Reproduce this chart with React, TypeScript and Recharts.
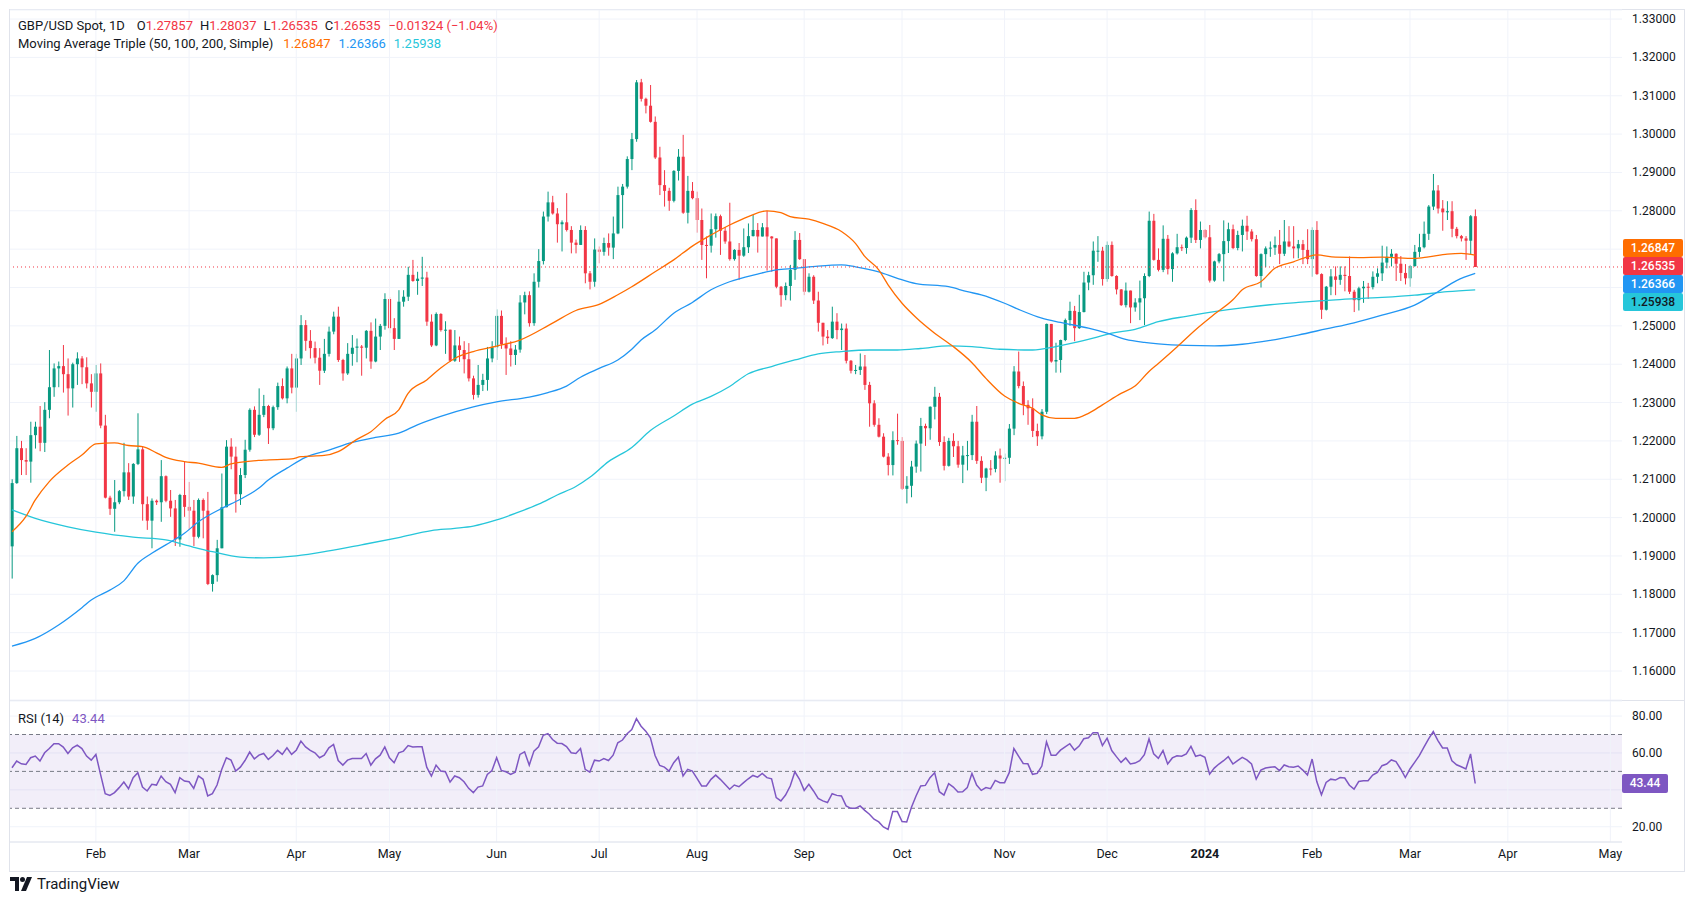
import React from "react";
import {
  ComposedChart,
  Bar,
  Line,
  XAxis,
  YAxis,
  CartesianGrid,
  ReferenceLine,
  ReferenceArea,
} from "recharts";

// GBP/USD daily, 6 Jan 2023 .. 21 Mar 2024 (one row per weekday)
const FIRST_OPEN = 1.1925;

const closes = [
  1.2090, 1.2181, 1.2150, 1.2146, 1.2215, 1.2237, 1.2195, 1.2281, 1.2340, 1.2389,
  1.2395, 1.2374, 1.2337, 1.2400, 1.2415, 1.2392, 1.2350, 1.2328, 1.2376, 1.2240,
  1.2052, 1.2023, 1.2040, 1.2069, 1.2118, 1.2055, 1.2140, 1.2178, 1.2035, 1.1992,
  1.2044, 1.2040, 1.2108, 1.2044, 1.2024, 1.1943, 1.2059, 1.2028, 1.2018, 1.1950,
  1.2046, 1.2018, 1.1827, 1.1850, 1.1920, 1.2027, 1.2185, 1.2159, 1.2061, 1.2111,
  1.2177, 1.2281, 1.2216, 1.2268, 1.2291, 1.2233, 1.2288, 1.2343, 1.2311, 1.2389,
  1.2339, 1.2415, 1.2502, 1.2461, 1.2442, 1.2417, 1.2383, 1.2427, 1.2485, 1.2524,
  1.2411, 1.2376, 1.2427, 1.2443, 1.2446, 1.2443, 1.2487, 1.2407, 1.2472, 1.2500,
  1.2570, 1.2494, 1.2466, 1.2563, 1.2576, 1.2633, 1.2617, 1.2623, 1.2626, 1.2511,
  1.2449, 1.2531, 1.2489, 1.2490, 1.2409, 1.2449, 1.2437, 1.2413, 1.2363, 1.2320,
  1.2346, 1.2359, 1.2415, 1.2444, 1.2526, 1.2452, 1.2441, 1.2424, 1.2438, 1.2561,
  1.2580, 1.2507, 1.2615, 1.2669, 1.2785, 1.2822, 1.2793, 1.2765, 1.2770, 1.2750,
  1.2717, 1.2711, 1.2750, 1.2637, 1.2615, 1.2699, 1.2693, 1.2716, 1.2704, 1.2741,
  1.2841, 1.2863, 1.2935, 1.2987, 1.3135, 1.3092, 1.3074, 1.3032, 1.2939, 1.2867,
  1.2852, 1.2826, 1.2904, 1.2941, 1.2795, 1.2852, 1.2833, 1.2776, 1.2711, 1.2709,
  1.2752, 1.2786, 1.2748, 1.2720, 1.2674, 1.2698, 1.2683, 1.2705, 1.2734, 1.2750,
  1.2733, 1.2757, 1.2733, 1.2728, 1.2602, 1.2580, 1.2604, 1.2646, 1.2724, 1.2674,
  1.2589, 1.2628, 1.2566, 1.2508, 1.2472, 1.2468, 1.2511, 1.2489, 1.2493, 1.2409,
  1.2383, 1.2385, 1.2394, 1.2346, 1.2298, 1.2242, 1.2211, 1.2159, 1.2137, 1.2202,
  1.2200, 1.2075, 1.2083, 1.2133, 1.2193, 1.2239, 1.2233, 1.2289, 1.2315, 1.2197,
  1.2135, 1.2200, 1.2186, 1.2138, 1.2162, 1.2163, 1.2250, 1.2148, 1.2104, 1.2128,
  1.2127, 1.2162, 1.2154, 1.2156, 1.2232, 1.2381, 1.2343, 1.2294, 1.2285, 1.2226,
  1.2212, 1.2276, 1.2505, 1.2407, 1.2411, 1.2463, 1.2515, 1.2539, 1.2494, 1.2536,
  1.2613, 1.2632, 1.2696, 1.2696, 1.2622, 1.2711, 1.2630, 1.2595, 1.2554, 1.2592,
  1.2548, 1.2561, 1.2572, 1.2630, 1.2774, 1.2672, 1.2646, 1.2727, 1.2648, 1.2689,
  1.2705, 1.2703, 1.2730, 1.2802, 1.2724, 1.2750, 1.2731, 1.2618, 1.2668, 1.2687,
  1.2721, 1.2752, 1.2703, 1.2737, 1.2761, 1.2746, 1.2726, 1.2630, 1.2687, 1.2702,
  1.2704, 1.2711, 1.2688, 1.2720, 1.2707, 1.2702, 1.2713, 1.2698, 1.2674, 1.2750,
  1.2635, 1.2542, 1.2602, 1.2629, 1.2620, 1.2633, 1.2630, 1.2589, 1.2567, 1.2598,
  1.2602, 1.2601, 1.2628, 1.2637, 1.2665, 1.2680, 1.2688, 1.2662, 1.2638, 1.2624,
  1.2656, 1.2693, 1.2705, 1.2740, 1.2811, 1.2853, 1.2806, 1.2796, 1.2799, 1.2753,
  1.2734, 1.2728, 1.2722, 1.27859, 1.26535,
];

const highs = [
  1.2100, 1.2213, 1.2200, 1.2181, 1.2250, 1.2250, 1.2291, 1.2301, 1.2437, 1.2402,
  1.2407, 1.2450, 1.2415, 1.2404, 1.2431, 1.2421, 1.2418, 1.2374, 1.2398, 1.2402,
  1.2268, 1.2057, 1.2098, 1.2072, 1.2195, 1.2142, 1.2142, 1.2272, 1.2185, 1.2055,
  1.2050, 1.2047, 1.2150, 1.2110, 1.2072, 1.2046, 1.2062, 1.2146, 1.2093, 1.2046,
  1.2050, 1.2050, 1.2067, 1.1852, 1.1942, 1.2115, 1.2202, 1.2207, 1.2185, 1.2129,
  1.2203, 1.2285, 1.2290, 1.2337, 1.2320, 1.2294, 1.2292, 1.2352, 1.2363, 1.2394,
  1.2427, 1.2427, 1.2528, 1.2515, 1.2489, 1.2459, 1.2442, 1.2466, 1.2498, 1.2537,
  1.2550, 1.2414, 1.2455, 1.2476, 1.2467, 1.2450, 1.2489, 1.2509, 1.2519, 1.2505,
  1.2585, 1.2575, 1.2520, 1.2593, 1.2593, 1.2654, 1.2672, 1.2641, 1.2680, 1.2641,
  1.2530, 1.2535, 1.2533, 1.2512, 1.2490, 1.2489, 1.2472, 1.2460, 1.2455, 1.2370,
  1.2398, 1.2375, 1.2445, 1.2460, 1.2543, 1.2540, 1.2470, 1.2460, 1.2450, 1.2580,
  1.2589, 1.2590, 1.2637, 1.2700, 1.2798, 1.2850, 1.2839, 1.2807, 1.2775, 1.2846,
  1.2760, 1.2725, 1.2762, 1.2760, 1.2643, 1.2728, 1.2707, 1.2730, 1.2741, 1.2785,
  1.2863, 1.2870, 1.2942, 1.3003, 1.3141, 1.3144, 1.3095, 1.3128, 1.3046, 1.2967,
  1.2906, 1.2860, 1.2906, 1.2961, 1.2998, 1.2891, 1.2875, 1.2850, 1.2806, 1.2733,
  1.2793, 1.2793, 1.2790, 1.2758, 1.2821, 1.2700, 1.2716, 1.2754, 1.2767, 1.2789,
  1.2768, 1.2768, 1.2800, 1.2734, 1.2728, 1.2604, 1.2613, 1.2659, 1.2747, 1.2742,
  1.2674, 1.2637, 1.2632, 1.2589, 1.2508, 1.2489, 1.2550, 1.2533, 1.2506, 1.2506,
  1.2411, 1.2398, 1.2428, 1.2424, 1.2354, 1.2306, 1.2259, 1.2220, 1.2168, 1.2225,
  1.2271, 1.2210, 1.2108, 1.2148, 1.2201, 1.2260, 1.2245, 1.2290, 1.2341, 1.2325,
  1.2212, 1.2208, 1.2220, 1.2200, 1.2187, 1.2200, 1.2268, 1.2291, 1.2160, 1.2130,
  1.2150, 1.2173, 1.2180, 1.2167, 1.2244, 1.2395, 1.2433, 1.2355, 1.2306, 1.2311,
  1.2245, 1.2283, 1.2506, 1.2505, 1.2456, 1.2464, 1.2519, 1.2563, 1.2552, 1.2581,
  1.2641, 1.2641, 1.2720, 1.2734, 1.2706, 1.2720, 1.2720, 1.2632, 1.2596, 1.2613,
  1.2592, 1.2572, 1.2618, 1.2637, 1.2798, 1.2792, 1.2702, 1.2762, 1.2737, 1.2692,
  1.2740, 1.2712, 1.2733, 1.2807, 1.2830, 1.2772, 1.2752, 1.2763, 1.2670, 1.2690,
  1.2775, 1.2769, 1.2764, 1.2748, 1.2777, 1.2787, 1.2752, 1.2737, 1.2689, 1.2707,
  1.2720, 1.2733, 1.2750, 1.2776, 1.2760, 1.2760, 1.2724, 1.2724, 1.2752, 1.2757,
  1.2773, 1.2637, 1.2604, 1.2648, 1.2655, 1.2655, 1.2655, 1.2681, 1.2594, 1.2602,
  1.2617, 1.2612, 1.2642, 1.2650, 1.2709, 1.2707, 1.2700, 1.2689, 1.2682, 1.2661,
  1.2659, 1.2711, 1.2740, 1.2772, 1.2815, 1.2896, 1.2867, 1.2828, 1.2825, 1.2825,
  1.2758, 1.2737, 1.2734, 1.2789, 1.28037,
];

const lows = [
  1.1841, 1.2088, 1.2111, 1.2111, 1.2091, 1.2180, 1.2173, 1.2171, 1.2259, 1.2315,
  1.2340, 1.2326, 1.2266, 1.2287, 1.2346, 1.2348, 1.2337, 1.2287, 1.2276, 1.2233,
  1.2050, 1.2007, 1.1963, 1.2035, 1.2055, 1.2046, 1.2036, 1.2137, 1.1992, 1.1968,
  1.1920, 1.2033, 1.1989, 1.2040, 1.2002, 1.1926, 1.1924, 1.2002, 1.1968, 1.1926,
  1.1946, 1.1946, 1.1824, 1.1807, 1.1833, 1.1920, 1.2028, 1.2126, 1.2013, 1.2033,
  1.2103, 1.2172, 1.2210, 1.2213, 1.2262, 1.2192, 1.2228, 1.2281, 1.2308, 1.2298,
  1.2324, 1.2276, 1.2398, 1.2435, 1.2415, 1.2402, 1.2346, 1.2377, 1.2420, 1.2478,
  1.2406, 1.2357, 1.2372, 1.2396, 1.2405, 1.2370, 1.2415, 1.2388, 1.2405, 1.2437,
  1.2490, 1.2481, 1.2437, 1.2466, 1.2550, 1.2565, 1.2615, 1.2581, 1.2604, 1.2500,
  1.2445, 1.2447, 1.2485, 1.2427, 1.2406, 1.2406, 1.2406, 1.2376, 1.2355, 1.2308,
  1.2313, 1.2330, 1.2331, 1.2405, 1.2411, 1.2440, 1.2372, 1.2394, 1.2398, 1.2430,
  1.2530, 1.2498, 1.2500, 1.2600, 1.2660, 1.2772, 1.2790, 1.2717, 1.2694, 1.2746,
  1.2689, 1.2689, 1.2711, 1.2611, 1.2595, 1.2602, 1.2663, 1.2683, 1.2683, 1.2674,
  1.2739, 1.2754, 1.2858, 1.2906, 1.2980, 1.3085, 1.3054, 1.3030, 1.2935, 1.2841,
  1.2811, 1.2800, 1.2822, 1.2879, 1.2792, 1.2767, 1.2830, 1.2743, 1.2672, 1.2624,
  1.2691, 1.2730, 1.2685, 1.2714, 1.2670, 1.2670, 1.2620, 1.2680, 1.2690, 1.2733,
  1.2691, 1.2733, 1.2644, 1.2641, 1.2598, 1.2550, 1.2567, 1.2566, 1.2620, 1.2672,
  1.2580, 1.2587, 1.2557, 1.2485, 1.2449, 1.2453, 1.2466, 1.2465, 1.2437, 1.2402,
  1.2376, 1.2374, 1.2372, 1.2333, 1.2237, 1.2237, 1.2209, 1.2157, 1.2110, 1.2110,
  1.2190, 1.2072, 1.2037, 1.2053, 1.2117, 1.2120, 1.2187, 1.2203, 1.2256, 1.2187,
  1.2123, 1.2133, 1.2158, 1.2130, 1.2090, 1.2123, 1.2150, 1.2140, 1.2090, 1.2069,
  1.2110, 1.2118, 1.2091, 1.2095, 1.2140, 1.2215, 1.2337, 1.2267, 1.2242, 1.2210,
  1.2187, 1.2204, 1.2270, 1.2404, 1.2378, 1.2378, 1.2460, 1.2500, 1.2460, 1.2492,
  1.2535, 1.2593, 1.2607, 1.2667, 1.2605, 1.2615, 1.2628, 1.2582, 1.2552, 1.2548,
  1.2507, 1.2537, 1.2515, 1.2502, 1.2627, 1.2670, 1.2642, 1.2640, 1.2634, 1.2615,
  1.2686, 1.2695, 1.2688, 1.2716, 1.2716, 1.2702, 1.2728, 1.2613, 1.2615, 1.2663,
  1.2616, 1.2690, 1.2700, 1.2697, 1.2694, 1.2724, 1.2720, 1.2628, 1.2600, 1.2653,
  1.2680, 1.2685, 1.2661, 1.2682, 1.2705, 1.2676, 1.2676, 1.2661, 1.2661, 1.2628,
  1.2633, 1.2518, 1.2540, 1.2580, 1.2580, 1.2607, 1.2590, 1.2583, 1.2536, 1.2540,
  1.2560, 1.2570, 1.2595, 1.2611, 1.2617, 1.2650, 1.2655, 1.2617, 1.2617, 1.2608,
  1.2602, 1.2654, 1.2679, 1.2702, 1.2724, 1.2802, 1.2793, 1.2748, 1.2776, 1.2731,
  1.2728, 1.2720, 1.2672, 1.2687, 1.26535,
];

// RSI(14), one value per candle
const rsi14 = [
  52, 55.6, 54.1, 53.8, 57.4, 58.3, 55.6, 60.1, 62.4, 65,
  65, 63.2, 59.7, 62.8, 64.2, 62.4, 58.3, 56.1, 59.2, 48.4,
  37.9, 37, 38.5, 41.2, 44.2, 40.6, 46.6, 49.3, 41.5, 39.4,
  43, 42.6, 47.5, 44.4, 43, 38.5, 46.6, 44.8, 44.4, 40.8,
  47.5, 45.7, 36.7, 37.9, 42.6, 51, 57.4, 56.1, 50.2, 52.3,
  55.9, 60.5, 56.8, 58.8, 59.7, 56.5, 58.6, 61.4, 59.2, 62.8,
  59.2, 61.5, 66.4, 63.3, 61.4, 60.1, 57.4, 58.8, 62.8, 64.6,
  55.9, 53.4, 56.1, 57, 57, 57, 59.7, 53.4, 56.8, 58.8,
  63.3, 57.4, 54.7, 60.1, 61, 64, 63.2, 63.3, 63.3, 52.3,
  47.5, 53.4, 50.2, 49.8, 44.2, 47.5, 46.6, 44.4, 40.8, 38.5,
  41.5, 42.1, 48.4, 50.5, 57.4, 50.5, 49.8, 48.4, 49.6, 59.2,
  60.6, 53.4, 61, 63.3, 69.6, 70.5, 67.3, 65.3, 65.1, 63.5,
  60.1, 59.7, 62.4, 51.1, 49.6, 56.1, 55.6, 57, 55.9, 58.8,
  65.5, 67, 70.4, 72.7, 78.6, 74.5, 71.8, 68.2, 58.6, 53.2,
  52.3, 50.2, 54.7, 57.7, 47.5, 51.1, 50.2, 46.2, 42.1, 42.1,
  45.7, 48, 45.7, 43, 40.3, 42.6, 41.7, 43.9, 46, 47.8,
  46.9, 48.9, 46.6, 46, 35.8, 34, 37.2, 42.1, 49.8, 45.7,
  39.7, 43, 39.4, 35.4, 34, 33.1, 37.9, 37, 36.7, 31.3,
  30, 30, 31.3, 28.9, 26.8, 24.1, 22.6, 19.9, 18.6, 28.2,
  28.2, 22.8, 22.6, 30.4, 36.7, 42.1, 42.4, 46.6, 49.3, 39,
  37.2, 43.3, 41.5, 38.8, 39, 41.2, 48.9, 42.6, 39.7, 41.2,
  40.6, 45.1, 43.9, 43.9, 49.3, 62.4, 58.3, 54.3, 54.1, 48.4,
  48.9, 52.9, 66, 58.8, 58.8, 61.5, 63.3, 65, 61.5, 63.7,
  67.7, 68.2, 70.9, 70.9, 64, 68, 61.3, 58, 54.9, 57.3,
  54, 54.5, 55.8, 59.1, 67.6, 59.5, 57.1, 61.3, 54, 57.3,
  58.5, 58.2, 59.5, 63.6, 58.2, 58.9, 57.6, 48.5, 51.8, 54,
  55.8, 58, 54, 55.8, 57.6, 56.2, 54, 45.8, 50.7, 51.8,
  52.2, 52.5, 50.4, 53.5, 52.5, 52.2, 52.9, 50.7, 48, 56.7,
  44.5, 37.3, 44, 45.8, 45.3, 46.7, 46.4, 42.5, 40.4, 44.5,
  44.9, 44.9, 48, 49.5, 53.1, 54, 56.2, 55.3, 51.3, 46.7,
  51.3, 54.9, 58.5, 63.1, 67.6, 71.6, 66.7, 62.7, 62.7, 55.8,
  53.6, 52.5, 51.3, 59.5, 43.44,
];

// moving averages: [candle index, value]
const sma50: [number, number][] = [
  [0, 1.1963], [3, 1.2003], [5, 1.2046], [8, 1.2094], [12, 1.2137], [15, 1.2163],
  [18, 1.2192], [22, 1.2195], [25, 1.2188], [28, 1.2185], [31, 1.2169], [33, 1.2157],
  [37, 1.2146], [40, 1.2142], [45, 1.2131], [47, 1.214], [54, 1.215], [60, 1.2153],
  [62, 1.2159], [67, 1.2162], [70, 1.2172], [74, 1.2204], [77, 1.2224], [80, 1.2256],
  [83, 1.2281], [85, 1.2324], [89, 1.2359], [92, 1.239], [95, 1.2415], [99, 1.2433],
  [104, 1.2447], [109, 1.2463], [116, 1.2507], [121, 1.254], [126, 1.2556], [130, 1.2581],
  [133, 1.2602], [138, 1.2641], [142, 1.2672], [146, 1.2708], [150, 1.2737], [154, 1.2763],
  [158, 1.2785], [162, 1.28], [165, 1.2795], [167, 1.2785], [171, 1.2778], [174, 1.2767],
  [178, 1.2746], [181, 1.2715], [183, 1.2681], [186, 1.2646], [188, 1.2607], [191, 1.2559],
  [194, 1.2522], [198, 1.2481], [202, 1.2446], [206, 1.2404], [209, 1.2363], [213, 1.2317],
  [216, 1.2298], [219, 1.2285], [221, 1.2268], [224, 1.2259], [228, 1.2259], [231, 1.2272],
  [234, 1.2294], [238, 1.2324], [241, 1.2343], [244, 1.2381], [246, 1.2402], [250, 1.2445],
  [254, 1.249], [258, 1.253], [262, 1.2568], [264, 1.2594], [268, 1.2615], [271, 1.265],
  [275, 1.2667], [278, 1.268], [280, 1.2685], [284, 1.2679], [289, 1.2678], [294, 1.2679],
  [301, 1.2676], [304, 1.268], [308, 1.2687], [311, 1.2689], [314, 1.26847],
];

const sma100: [number, number][] = [
  [0, 1.1665], [5, 1.1685], [10, 1.172], [15, 1.1765], [17, 1.1785], [21, 1.1811],
  [24, 1.1835], [27, 1.1881], [30, 1.1907], [33, 1.1929], [37, 1.1959], [40, 1.1989],
  [45, 1.2024], [49, 1.2048], [53, 1.2077], [55, 1.2098], [59, 1.2129], [63, 1.2157],
  [68, 1.2176], [73, 1.2196], [78, 1.2209], [83, 1.222], [87, 1.2242], [92, 1.2264],
  [99, 1.2289], [104, 1.2302], [111, 1.2314], [115, 1.2326], [119, 1.2343], [122, 1.2366],
  [126, 1.2389], [130, 1.2411], [133, 1.2439], [135, 1.2463], [138, 1.2489], [142, 1.2533],
  [146, 1.2561], [150, 1.2594], [154, 1.2615], [160, 1.2635], [164, 1.2646], [168, 1.265],
  [173, 1.2656], [178, 1.2659], [181, 1.2654], [186, 1.2641], [190, 1.2624], [194, 1.261],
  [201, 1.2602], [205, 1.2589], [208, 1.2581], [213, 1.2559], [216, 1.2543], [221, 1.252],
  [225, 1.2509], [231, 1.2494], [235, 1.2481], [239, 1.2465], [243, 1.2457], [246, 1.2453],
  [252, 1.2449], [258, 1.2448], [264, 1.2452], [270, 1.2462], [276, 1.2476], [282, 1.2492],
  [288, 1.2508], [294, 1.2528], [301, 1.2554], [306, 1.2589], [310, 1.2618], [314, 1.26366],
];

const sma200: [number, number][] = [
  [0, 1.202], [5, 1.1998], [12, 1.1976], [18, 1.1962], [26, 1.1949], [33, 1.1942],
  [38, 1.1926], [43, 1.1911], [49, 1.1897], [54, 1.1895], [61, 1.19], [68, 1.1913],
  [75, 1.1929], [83, 1.1948], [90, 1.1966], [95, 1.1972], [99, 1.1978], [104, 1.1994],
  [108, 1.2011], [113, 1.2035], [117, 1.2059], [121, 1.2081], [124, 1.2105], [128, 1.2146],
  [133, 1.2183], [137, 1.2227], [142, 1.2265], [146, 1.2296], [150, 1.2316], [154, 1.2342],
  [158, 1.2375], [163, 1.2394], [168, 1.2411], [173, 1.2427], [178, 1.2433], [184, 1.2437],
  [190, 1.2437], [195, 1.2441], [201, 1.2448], [206, 1.2446], [212, 1.2439], [219, 1.2437],
  [224, 1.2446], [228, 1.2456], [232, 1.2468], [236, 1.2481], [241, 1.2491], [246, 1.2511],
  [252, 1.2525], [258, 1.2537], [264, 1.2547], [270, 1.2555], [276, 1.2561], [284, 1.2568],
  [294, 1.2574], [301, 1.258], [308, 1.2589], [314, 1.25938],
];

const monthTicks = [18, 38, 61, 81, 104, 126, 147, 170, 191, 213, 235, 256, 279, 300, 321, 343];
const monthLabels = ["Feb", "Mar", "Apr", "May", "Jun", "Jul", "Aug", "Sep", "Oct", "Nov", "Dec", "2024", "Feb", "Mar", "Apr", "May"];

const priceTicks = [
  1.16, 1.17, 1.18, 1.19, 1.2, 1.21, 1.22, 1.23, 1.24, 1.25, 1.26, 1.27, 1.28,
  1.29, 1.3, 1.31, 1.32, 1.33,
];
// tick labels covered by the last-value boxes on the scale
const hiddenPriceLabels = [1.26, 1.27];
const rsiTicks = [20, 40, 60, 80];
const hiddenRsiLabels = [40];

const UP = "#089981";
const DOWN = "#F23645";
const C50 = "#FF6D00";
const C100 = "#2196F3";
const C200 = "#26C6DA";
const RSI_C = "#7E57C2";
const GRID = "#F0F3FA";
const TEXT = "#131722";
const FONT = "Roboto, 'Noto Sans', sans-serif";

const PLOT_RIGHT = 1622;
const X_DOMAIN: [number, number] = [-0.43, 345.5];

const rows: any[] = closes.map((c, i) => {
  const o = i === 0 ? FIRST_OPEN : closes[i - 1];
  const h = highs[i];
  const l = lows[i];
  return {
    i,
    o,
    h,
    l,
    c,
    range: [Math.min(l, o, c), Math.max(h, o, c)],
    rsi: rsi14[i],
    sma50: null,
    sma100: null,
    sma200: null,
  };
});
for (const [i, v] of sma50) rows[i].sma50 = v;
for (const [i, v] of sma100) rows[i].sma100 = v;
for (const [i, v] of sma200) rows[i].sma200 = v;

const last = rows[rows.length - 1];

function Candle(props: any) {
  let { x, y, width, height, payload } = props;
  if (!payload) return null;
  if (height < 0) {
    y += height;
    height = -height;
  }
  const [lo, hi] = payload.range;
  const ppu = hi === lo ? 0 : height / (hi - lo);
  const cx = x + width / 2;
  const yOf = (v: number) => y + (hi - v) * ppu;
  const color = payload.c >= payload.o ? UP : DOWN;
  const top = yOf(Math.max(payload.o, payload.c));
  const bot = yOf(Math.min(payload.o, payload.c));
  return (
    <g>
      <line x1={cx} x2={cx} y1={y} y2={y + height} stroke={color} strokeWidth={1} />
      <rect x={cx - 1.5} y={top} width={3} height={Math.max(1, bot - top)} fill={color} />
    </g>
  );
}

const PriceTick = (p: any) => {
  const v = Number(p.payload.value);
  if (hiddenPriceLabels.some((h) => Math.abs(h - v) < 1e-9)) return <g />;
  return (
    <text x={PLOT_RIGHT + 10} y={p.y} dy={4} fontSize={12} fill={TEXT} fontFamily={FONT}>
      {v.toFixed(5)}
    </text>
  );
};

const RsiTick = (p: any) => {
  const v = Number(p.payload.value);
  if (hiddenRsiLabels.includes(v)) return <g />;
  return (
    <text x={PLOT_RIGHT + 10} y={p.y} dy={4} fontSize={12} fill={TEXT} fontFamily={FONT}>
      {v.toFixed(2)}
    </text>
  );
};

const MonthTick = (p: any) => {
  const k = monthTicks.indexOf(p.payload.value);
  const label = monthLabels[k] ?? "";
  return (
    <text
      x={p.x}
      y={p.y}
      dy={8}
      textAnchor="middle"
      fontSize={12.5}
      fontWeight={label === "2024" ? 700 : 400}
      fill={TEXT}
      fontFamily={FONT}
    >
      {label}
    </text>
  );
};

const valueBox = (top: number, bg: string, fg: string, text: string) => (
  <div
    style={{
      position: "absolute",
      left: 1623,
      top,
      width: 60,
      height: 18,
      background: bg,
      color: fg,
      fontSize: 12,
      fontWeight: 500,
      lineHeight: "18px",
      textAlign: "center",
      borderRadius: 2,
    }}
  >
    {text}
  </div>
);

export default function App() {
  return (
    <div
      style={{
        position: "absolute",
        left: 0,
        top: 0,
        width: 1695,
        height: 903,
        background: "#fff",
        fontFamily: FONT,
        color: TEXT,
        overflow: "hidden",
      }}
    >
      {/* frame */}
      <div
        style={{
          position: "absolute",
          left: 9,
          top: 9,
          width: 1676,
          height: 863,
          border: "1px solid #E0E3EB",
          boxSizing: "border-box",
        }}
      />

      <div style={{ position: "absolute", left: 0, top: 0 }}>
        <ComposedChart width={1695} height={700} data={rows} margin={{ top: 10, right: 0, left: 10, bottom: 0 }}>
          <CartesianGrid stroke={GRID} vertical={false} />
          {monthTicks.map((t) => (
            <ReferenceLine key={t} x={t} stroke={GRID} strokeWidth={1} />
          ))}
          <XAxis dataKey="i" type="number" domain={X_DOMAIN} ticks={monthTicks} hide allowDataOverflow />
          <YAxis
            orientation="right"
            width={73}
            domain={[1.15244, 1.33236]}
            ticks={priceTicks}
            tick={PriceTick}
            tickLine={false}
            axisLine={false}
            allowDataOverflow
          />
          <Line dataKey="sma200" stroke={C200} strokeWidth={1.3} dot={false} connectNulls type="monotone" isAnimationActive={false} />
          <Line dataKey="sma100" stroke={C100} strokeWidth={1.3} dot={false} connectNulls type="monotone" isAnimationActive={false} />
          <Line dataKey="sma50" stroke={C50} strokeWidth={1.3} dot={false} connectNulls type="monotone" isAnimationActive={false} />
          <Bar dataKey="range" barSize={3} shape={Candle} isAnimationActive={false} />
          <ReferenceLine y={last.c} stroke={DOWN} strokeDasharray="1 3" strokeWidth={1} />
        </ComposedChart>
      </div>

      {/* pane separator */}
      <div style={{ position: "absolute", left: 9, top: 700, width: 1676, height: 1, background: "#E0E3EB" }} />

      <div style={{ position: "absolute", left: 0, top: 700 }}>
        <ComposedChart width={1695} height={172} data={rows} margin={{ top: 1, right: 0, left: 10, bottom: 0 }}>
          <CartesianGrid stroke={GRID} vertical={false} />
          {monthTicks.map((t) => (
            <ReferenceLine key={t} x={t} stroke={GRID} strokeWidth={1} />
          ))}
          <ReferenceArea x1={X_DOMAIN[0]} x2={X_DOMAIN[1]} y1={30} y2={70} fill={RSI_C} fillOpacity={0.1} stroke="none" />
          <ReferenceLine y={70} stroke="#787B86" strokeDasharray="4 3" />
          <ReferenceLine y={50} stroke="#787B86" strokeDasharray="4 3" />
          <ReferenceLine y={30} stroke="#787B86" strokeDasharray="4 3" />
          <XAxis
            dataKey="i"
            type="number"
            domain={X_DOMAIN}
            ticks={monthTicks}
            tick={MonthTick}
            tickLine={false}
            axisLine={{ stroke: "#E0E3EB" }}
            height={30}
            allowDataOverflow
          />
          <YAxis
            orientation="right"
            width={73}
            domain={[11.73, 88.16]}
            ticks={rsiTicks}
            tick={RsiTick}
            tickLine={false}
            axisLine={false}
            allowDataOverflow
          />
          <Line dataKey="rsi" stroke={RSI_C} strokeWidth={1.5} dot={false} type="linear" isAnimationActive={false} />
        </ComposedChart>
      </div>

      {/* legends */}
      <div style={{ position: "absolute", left: 18, top: 17, fontSize: 13, lineHeight: "17px", whiteSpace: "nowrap" }}>
        <span>GBP/USD Spot, 1D</span>
        <span style={{ marginLeft: 12 }}>O</span>
        <span style={{ color: DOWN }}>1.27857</span>
        <span style={{ marginLeft: 7 }}>H</span>
        <span style={{ color: DOWN }}>1.28037</span>
        <span style={{ marginLeft: 7 }}>L</span>
        <span style={{ color: DOWN }}>1.26535</span>
        <span style={{ marginLeft: 7 }}>C</span>
        <span style={{ color: DOWN }}>1.26535</span>
        <span style={{ color: DOWN, marginLeft: 8 }}>−0.01324 (−1.04%)</span>
      </div>
      <div style={{ position: "absolute", left: 18, top: 35, fontSize: 13, lineHeight: "17px", whiteSpace: "nowrap" }}>
        <span>Moving Average Triple (50, 100, 200, Simple)</span>
        <span style={{ color: C50, marginLeft: 10 }}>{sma50[sma50.length - 1][1].toFixed(5)}</span>
        <span style={{ color: C100, marginLeft: 8 }}>{sma100[sma100.length - 1][1].toFixed(5)}</span>
        <span style={{ color: C200, marginLeft: 8 }}>{sma200[sma200.length - 1][1].toFixed(5)}</span>
      </div>
      <div style={{ position: "absolute", left: 18, top: 710, fontSize: 13, lineHeight: "17px", whiteSpace: "nowrap" }}>
        <span>RSI (14)</span>
        <span style={{ color: RSI_C, marginLeft: 8 }}>{rsi14[rsi14.length - 1].toFixed(2)}</span>
      </div>

      {/* last value labels on the price scale */}
      {valueBox(239, C50, "#fff", sma50[sma50.length - 1][1].toFixed(5))}
      {valueBox(257, DOWN, "#fff", last.c.toFixed(5))}
      {valueBox(275, C100, "#fff", sma100[sma100.length - 1][1].toFixed(5))}
      {valueBox(293, C200, TEXT, sma200[sma200.length - 1][1].toFixed(5))}
      <div
        style={{
          position: "absolute",
          left: 1622,
          top: 774,
          width: 46,
          height: 19,
          background: RSI_C,
          color: "#fff",
          fontSize: 12,
          fontWeight: 500,
          lineHeight: "19px",
          textAlign: "center",
          borderRadius: 2,
        }}
      >
        {rsi14[rsi14.length - 1].toFixed(2)}
      </div>

      {/* TradingView mark */}
      <div style={{ position: "absolute", left: 10, top: 875, display: "flex", alignItems: "center", gap: 5 }}>
        <svg width={22} height={14} viewBox="0 0 22 14">
          <path d="M0 0h9v14H5V4H0z" fill={TEXT} />
          <circle cx={12.5} cy={2.5} r={2.5} fill={TEXT} />
          <path d="M17 0h5l-6 14h-5z" fill={TEXT} />
        </svg>
        <span style={{ fontSize: 15, color: TEXT }}>TradingView</span>
      </div>
    </div>
  );
}
